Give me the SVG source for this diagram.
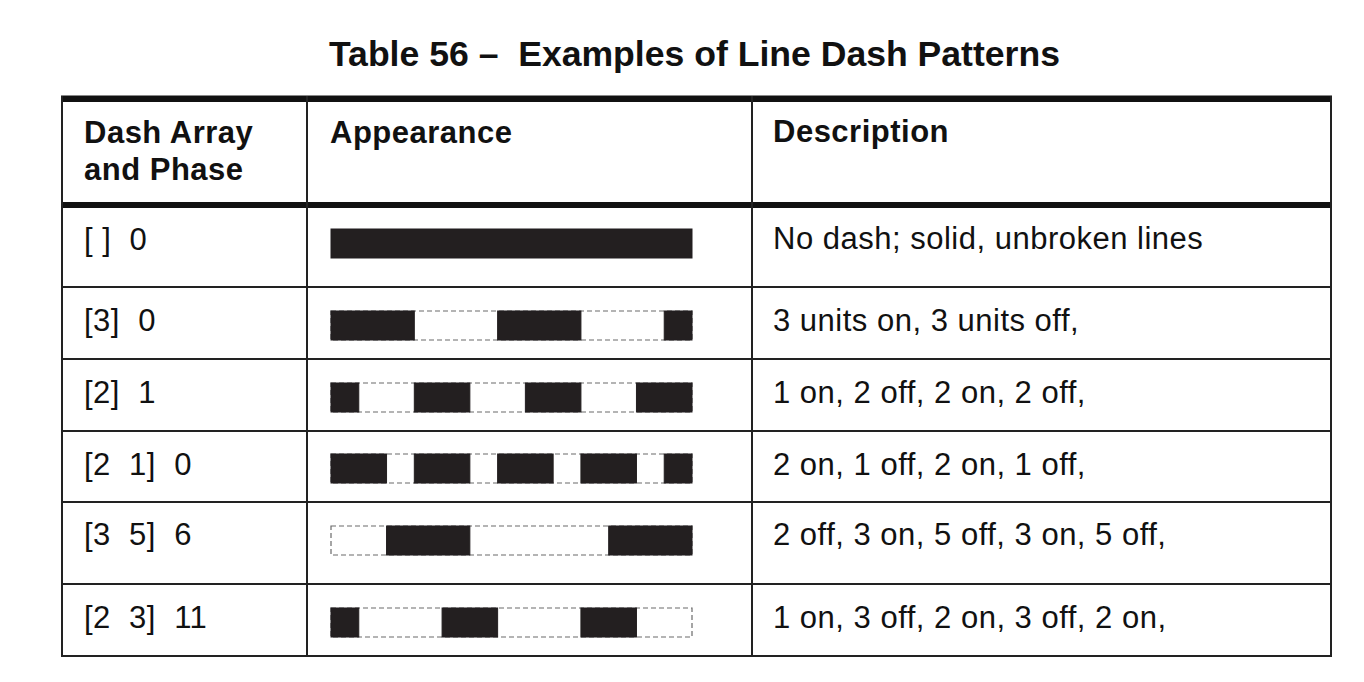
<svg xmlns="http://www.w3.org/2000/svg" width="1364" height="682" viewBox="0 0 1364 682" xml:space="preserve">
<style>
text{font-family:"Liberation Sans",Arial,Helvetica,sans-serif;fill:#111;white-space:pre}
.title{font-size:35.6px;font-weight:bold}
.hd{font-size:31px;font-weight:bold;letter-spacing:0.5px}
.bd{font-size:31px;letter-spacing:0.5px}
.thin{stroke:#222;stroke-width:2;fill:none}
.thick{fill:#111}
.on{fill:#231f20;stroke:#231f20;stroke-width:1}
.off{fill:#fff;stroke:#6a6a6a;stroke-width:1.2;stroke-dasharray:5 3}
</style>
<rect width="1364" height="682" fill="#fff"/>
<text class="title" x="329" y="65.5">Table 56 –  Examples of Line Dash Patterns</text>

<g id="grid">
<rect class="thick" x="61" y="95.5" width="1271" height="6.5"/>
<rect class="thick" x="61" y="202" width="1271" height="6"/>
<line class="thin" x1="62" y1="96" x2="62" y2="657"/>
<line class="thin" x1="307" y1="96" x2="307" y2="657"/>
<line class="thin" x1="752" y1="96" x2="752" y2="657"/>
<line class="thin" x1="1331" y1="96" x2="1331" y2="657"/>
<line class="thin" x1="61" y1="287" x2="1332" y2="287"/>
<line class="thin" x1="61" y1="359" x2="1332" y2="359"/>
<line class="thin" x1="61" y1="431" x2="1332" y2="431"/>
<line class="thin" x1="61" y1="502" x2="1332" y2="502"/>
<line class="thin" x1="61" y1="584" x2="1332" y2="584"/>
<line class="thin" x1="61" y1="656" x2="1332" y2="656"/>
</g>

<g id="header">
<text class="hd" x="84" y="143">Dash Array</text>
<text class="hd" x="84" y="180">and Phase</text>
<text class="hd" x="330" y="143">Appearance</text>
<text class="hd" x="773" y="142">Description</text>
</g>

<g id="row1">
<text class="bd" x="84" y="250">[ ]  0</text>
<rect class="on" x="331" y="229" width="361" height="29"/>
<text class="bd" x="773" y="249">No dash; solid, unbroken lines</text>
</g>

<g id="row2">
<text class="bd" x="84" y="331">[3]  0</text>
<rect class="off" x="331" y="311" width="361" height="29"/>
<rect class="on" x="331" y="311" width="83.31" height="29"/>
<rect class="on" x="497.62" y="311" width="83.3" height="29"/>
<rect class="on" x="664.23" y="311" width="27.77" height="29"/>
<text class="bd" x="773" y="331">3 units on, 3 units off,</text>
</g>

<g id="row3">
<text class="bd" x="84" y="403">[2]  1</text>
<rect class="off" x="331" y="383" width="361" height="29"/>
<rect class="on" x="331" y="383" width="27.77" height="29"/>
<rect class="on" x="414.31" y="383" width="55.54" height="29"/>
<rect class="on" x="525.38" y="383" width="55.54" height="29"/>
<rect class="on" x="636.46" y="383" width="55.54" height="29"/>
<text class="bd" x="773" y="403">1 on, 2 off, 2 on, 2 off,</text>
</g>

<g id="row4">
<text class="bd" x="84" y="475">[2  1]  0</text>
<rect class="off" x="331" y="454" width="361" height="29"/>
<rect class="on" x="331" y="454" width="55.54" height="29"/>
<rect class="on" x="414.31" y="454" width="55.54" height="29"/>
<rect class="on" x="497.62" y="454" width="55.53" height="29"/>
<rect class="on" x="580.92" y="454" width="55.54" height="29"/>
<rect class="on" x="664.23" y="454" width="27.77" height="29"/>
<text class="bd" x="773" y="475">2 on, 1 off, 2 on, 1 off,</text>
</g>

<g id="row5">
<text class="bd" x="84" y="545">[3  5]  6</text>
<rect class="off" x="331" y="526" width="361" height="29"/>
<rect class="on" x="386.54" y="526" width="83.31" height="29"/>
<rect class="on" x="608.69" y="526" width="83.31" height="29"/>
<text class="bd" x="773" y="545">2 off, 3 on, 5 off, 3 on, 5 off,</text>
</g>

<g id="row6">
<text class="bd" x="84" y="628">[2  3]  11</text>
<rect class="off" x="331" y="608" width="361" height="29"/>
<rect class="on" x="331" y="608" width="27.77" height="29"/>
<rect class="on" x="442.08" y="608" width="55.54" height="29"/>
<rect class="on" x="580.92" y="608" width="55.54" height="29"/>
<text class="bd" x="773" y="628">1 on, 3 off, 2 on, 3 off, 2 on,</text>
</g>
</svg>
